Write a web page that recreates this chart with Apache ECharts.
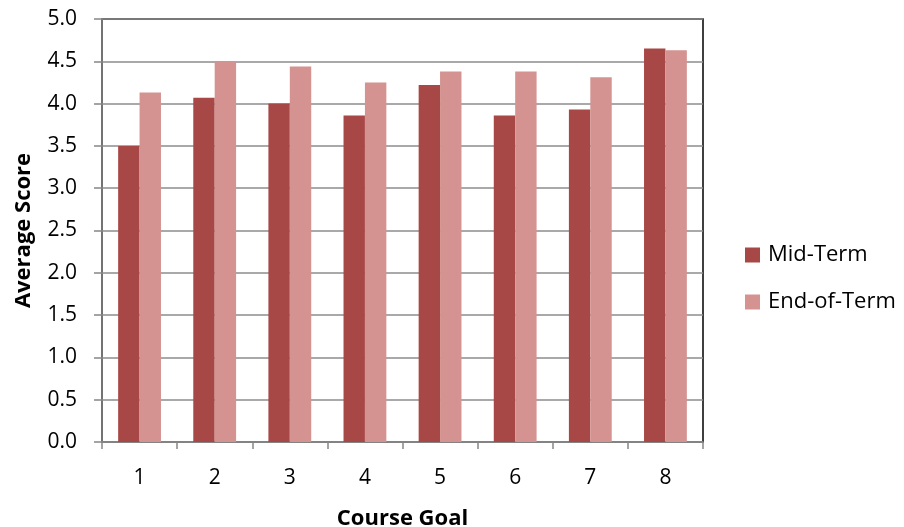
<!DOCTYPE html>
<html>
<head>
<meta charset="utf-8">
<script src="https://cdn.jsdelivr.net/npm/echarts@6/dist/echarts.min.js"></script>
<style>
  html, body { margin: 0; padding: 0; background: #fff; }
  #chart { width: 904px; height: 527px; }
</style>
</head>
<body>
<div id="chart"></div>
<script>
// Average score per course goal, mid-term vs end-of-term survey
const goals = ['1', '2', '3', '4', '5', '6', '7', '8'];
const midTerm = [3.50, 4.07, 4.00, 3.86, 4.22, 3.86, 3.93, 4.65];
const endOfTerm = [4.13, 4.50, 4.44, 4.25, 4.38, 4.38, 4.31, 4.63];
const seriesNames = ['Mid-Term', 'End-of-Term'];
const seriesColors = ['#A84846', '#D49291'];

const FONT = '"Open Sans", "Noto Sans", sans-serif';
const AXIS_GREY = '#868686';

const chart = echarts.init(document.getElementById('chart'), null, { renderer: 'canvas' });
chart.setOption({
  animation: false,
  backgroundColor: '#ffffff',
  textStyle: { fontFamily: FONT },
  grid: {
    left: 102, top: 19, right: 201, bottom: 85,
    outerBoundsMode: 'none',
    containLabel: false,
    show: true, borderColor: '#000000', borderWidth: 1.5, backgroundColor: 'transparent'
  },
  legend: {
    orient: 'vertical',
    left: 745, top: 244, padding: 0,
    itemWidth: 15, itemHeight: 15, itemGap: 25,
    icon: 'rect',
    textStyle: { fontSize: 22, color: '#000', fontFamily: FONT, padding: [0, 0, 0, 3] },
    data: seriesNames
  },
  xAxis: {
    type: 'category',
    data: goals,
    name: 'Course Goal',
    nameLocation: 'middle',
    nameGap: 66,
    nameTextStyle: { fontSize: 22, fontWeight: 'bold', color: '#000', fontFamily: FONT },
    axisLine: { lineStyle: { color: AXIS_GREY, width: 1.5 } },
    axisTick: { show: true, length: 7, lineStyle: { color: AXIS_GREY, width: 1.5 } },
    axisLabel: { fontSize: 21, color: '#000', margin: 26, fontFamily: FONT },
    splitLine: { show: false }
  },
  yAxis: {
    type: 'value',
    min: 0, max: 5, interval: 0.5,
    name: 'Average Score',
    nameLocation: 'middle',
    nameGap: 67,
    nameRotate: 90,
    nameTextStyle: { fontSize: 22, fontWeight: 'bold', color: '#000', fontFamily: FONT },
    axisLine: { show: true, lineStyle: { color: AXIS_GREY, width: 1.5 } },
    axisTick: { show: true, length: 8, lineStyle: { color: AXIS_GREY, width: 1.5 } },
    axisLabel: {
      fontSize: 21, color: '#000', margin: 25, fontFamily: FONT,
      formatter: v => v.toFixed(1)
    },
    splitLine: { show: true, lineStyle: { color: '#8c8c8c', width: 1.5 } }
  },
  series: [
    {
      name: seriesNames[0], type: 'bar', data: midTerm,
      itemStyle: { color: seriesColors[0] },
      barGap: '0%', barCategoryGap: '43%'
    },
    {
      name: seriesNames[1], type: 'bar', data: endOfTerm,
      itemStyle: { color: seriesColors[1] },
      barGap: '0%', barCategoryGap: '43%'
    }
  ]
});
</script>
</body>
</html>
